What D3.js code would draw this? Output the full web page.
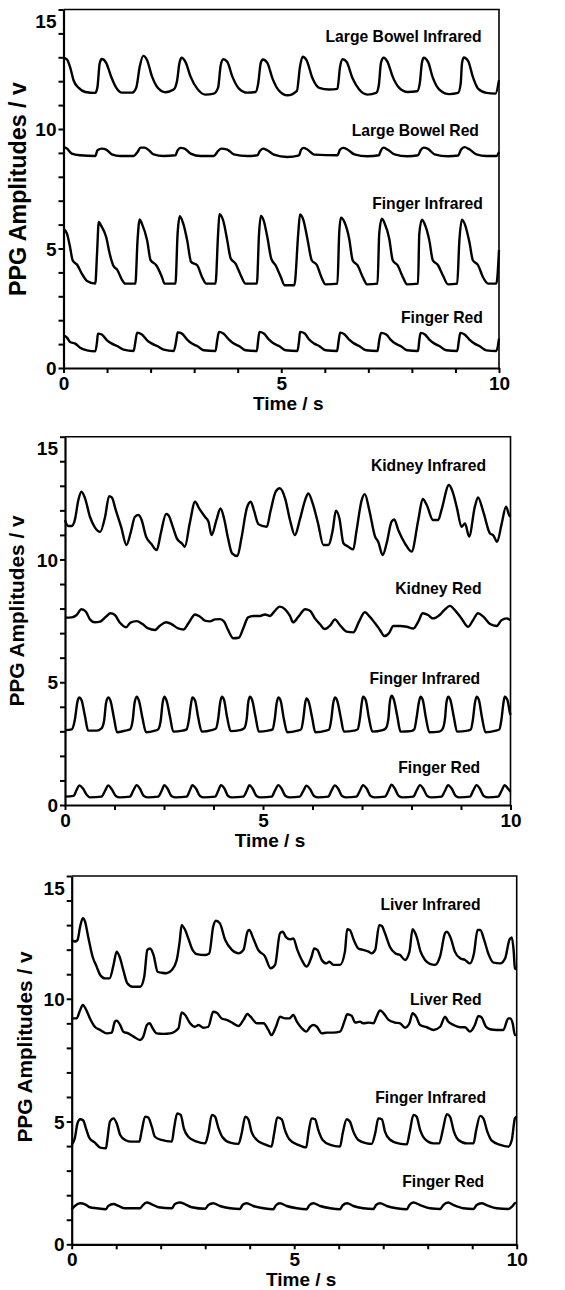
<!DOCTYPE html>
<html><head><meta charset="utf-8">
<script src="https://cdn.jsdelivr.net/npm/d3@7/dist/d3.min.js"></script>
<style>
body{margin:0;background:#fff}
svg{display:block}
text{font-family:"Liberation Sans",Arial,Helvetica,sans-serif;font-weight:bold;fill:#000}
</style>
</head><body>
<svg id="chart" width="565" height="1290"></svg>
<script>
// ---------- tick labels ----------
const yTickLabels = ["0","","","","","5","","","","","10","","","","","15"];
const xTickLabelsStd = ["0","","","","","5","","","","","10"];
const xTickLabelsP2  = ["0","","","","5","","","","","10"];
const xTitle = "Time / s";
const yTitle = "PPG Amplitudes / v";

// ---------- panel 1 series: [time s, amplitude v] ----------
const p1LargeBowelInfrared = [[0,12.99],[0.08,12.91],[0.15,12.6],[0.23,12.04],[0.35,11.72],[0.5,11.55],[0.73,11.51],[0.78,11.76],[0.83,12.74],[0.88,12.93],[0.98,12.77],[1.09,12.21],[1.21,11.73],[1.34,11.52],[1.57,11.52],[1.67,11.73],[1.75,12.6],[1.83,13.06],[1.92,12.88],[2.03,12.21],[2.15,11.76],[2.34,11.54],[2.53,11.65],[2.61,12.04],[2.66,12.74],[2.71,12.98],[2.8,12.81],[2.92,12.18],[3.07,11.69],[3.26,11.44],[3.45,11.48],[3.55,11.73],[3.61,12.67],[3.67,12.92],[3.76,12.81],[3.88,12.18],[4.03,11.69],[4.22,11.52],[4.41,11.55],[4.47,11.9],[4.53,12.77],[4.58,12.91],[4.68,12.77],[4.8,12.11],[4.95,11.6],[5.14,11.41],[5.36,11.6],[5.43,12.6],[5.49,13.02],[5.58,12.88],[5.72,12.11],[5.87,11.72],[6.1,11.65],[6.29,11.68],[6.35,12.6],[6.41,12.92],[6.5,12.81],[6.64,12.11],[6.79,11.65],[6.98,11.44],[7.18,11.51],[7.24,11.83],[7.29,12.77],[7.35,12.98],[7.44,12.81],[7.56,12.18],[7.71,11.72],[7.9,11.55],[8.12,11.58],[8.18,11.9],[8.23,12.77],[8.27,12.98],[8.37,12.81],[8.48,12.15],[8.63,11.65],[8.86,11.46],[9.06,11.51],[9.12,11.9],[9.15,12.74],[9.19,12.99],[9.29,12.85],[9.4,12.18],[9.52,11.69],[9.71,11.51],[9.92,11.48],[10,12.04]];
const p1LargeBowelRed = [[0,9.25],[0.08,9.18],[0.19,8.97],[0.38,8.9],[0.73,8.87],[0.78,9.11],[0.88,9.18],[0.98,9.14],[1.11,8.94],[1.3,8.87],[1.61,8.87],[1.7,9.04],[1.77,9.22],[1.86,9.22],[1.96,9.11],[2.07,8.94],[2.3,8.87],[2.57,8.9],[2.62,9.11],[2.69,9.21],[2.78,9.18],[2.92,8.97],[3.15,8.87],[3.45,8.87],[3.55,9.08],[3.62,9.18],[3.76,9.14],[3.91,8.94],[4.22,8.87],[4.45,8.9],[4.51,9.08],[4.58,9.18],[4.68,9.11],[4.83,8.93],[5.14,8.83],[5.41,8.9],[5.45,9.11],[5.51,9.21],[5.6,9.14],[5.76,8.93],[6.29,8.9],[6.35,9.14],[6.43,9.21],[6.52,9.14],[6.68,8.94],[6.98,8.86],[7.24,8.9],[7.29,9.11],[7.35,9.22],[7.44,9.14],[7.6,8.94],[7.9,8.86],[8.14,8.9],[8.2,9.11],[8.27,9.22],[8.37,9.17],[8.52,8.94],[8.83,8.86],[9.06,8.89],[9.13,9.14],[9.21,9.24],[9.32,9.15],[9.48,8.94],[9.71,8.87],[9.94,8.87],[10,9.04]];
const p1FingerInfrared = [[0,5.83],[0.08,5.62],[0.15,5.06],[0.21,4.51],[0.32,4.3],[0.42,3.95],[0.54,3.64],[0.73,3.53],[0.77,4.79],[0.81,6.11],[0.86,5.97],[0.98,5.48],[1.06,4.79],[1.14,4.3],[1.24,4.09],[1.34,3.7],[1.42,3.53],[1.65,3.53],[1.7,5.34],[1.75,6.22],[1.8,6.04],[1.92,5.34],[2.0,4.51],[2.13,4.3],[2.26,3.81],[2.32,3.53],[2.57,3.53],[2.62,5.62],[2.67,6.35],[2.75,6.04],[2.84,5.34],[2.93,4.44],[3.07,4.3],[3.18,3.81],[3.28,3.53],[3.49,3.53],[3.55,5.62],[3.58,6.43],[3.67,6.15],[3.76,5.34],[3.84,4.58],[3.95,4.37],[4.07,3.88],[4.18,3.53],[4.44,3.53],[4.49,5.62],[4.53,6.36],[4.6,6.15],[4.68,5.48],[4.77,4.58],[4.87,4.3],[4.99,3.81],[5.08,3.46],[5.3,3.46],[5.39,5.62],[5.43,6.42],[5.51,6.18],[5.6,5.41],[5.7,4.51],[5.82,4.3],[5.92,3.81],[6.02,3.5],[6.29,3.53],[6.33,5.62],[6.37,6.29],[6.45,6.11],[6.56,5.41],[6.64,4.51],[6.75,4.3],[6.87,3.81],[6.97,3.5],[7.21,3.53],[7.25,5.62],[7.31,6.25],[7.37,6.07],[7.48,5.41],[7.56,4.51],[7.67,4.3],[7.79,3.81],[7.89,3.5],[8.14,3.53],[8.17,5.62],[8.23,6.21],[8.29,6.04],[8.4,5.34],[8.48,4.51],[8.6,4.3],[8.71,3.88],[8.83,3.5],[9.04,3.53],[9.09,5.34],[9.15,6.21],[9.21,6.04],[9.32,5.27],[9.4,4.51],[9.52,4.3],[9.63,3.81],[9.75,3.53],[9.94,3.53],[10,4.93]];
const p1FingerRed = [[0,1.37],[0.08,1.27],[0.15,1.09],[0.27,1.02],[0.38,0.85],[0.54,0.74],[0.73,0.7],[0.77,1.09],[0.79,1.44],[0.88,1.4],[1.0,1.16],[1.11,1.02],[1.23,0.92],[1.38,0.77],[1.61,0.71],[1.65,1.09],[1.69,1.48],[1.8,1.4],[1.92,1.16],[2.03,1.02],[2.15,0.92],[2.3,0.77],[2.53,0.71],[2.59,1.16],[2.62,1.49],[2.72,1.44],[2.84,1.19],[2.95,1.02],[3.07,0.92],[3.22,0.74],[3.49,0.71],[3.53,1.16],[3.57,1.51],[3.67,1.44],[3.8,1.19],[3.91,1.02],[4.03,0.92],[4.18,0.74],[4.44,0.71],[4.47,1.16],[4.5,1.51],[4.6,1.44],[4.72,1.19],[4.83,1.02],[4.95,0.92],[5.1,0.74],[5.37,0.71],[5.41,1.16],[5.43,1.51],[5.54,1.44],[5.64,1.19],[5.76,1.02],[5.87,0.92],[6.02,0.74],[6.28,0.71],[6.32,1.16],[6.35,1.48],[6.45,1.41],[6.56,1.19],[6.68,1.02],[6.79,0.92],[6.95,0.74],[7.21,0.71],[7.25,1.16],[7.29,1.47],[7.41,1.4],[7.51,1.19],[7.62,1.02],[7.74,0.92],[7.89,0.74],[8.14,0.71],[8.17,1.16],[8.2,1.47],[8.3,1.4],[8.4,1.19],[8.52,1.02],[8.63,0.92],[8.79,0.74],[9.04,0.71],[9.08,1.16],[9.11,1.47],[9.21,1.4],[9.32,1.19],[9.44,1.02],[9.55,0.92],[9.71,0.74],[9.94,0.71],[10,1.23]];

// ---------- panel 2 series ----------
const p2KidneyInfrared = [[0,11.6],[0.07,11.36],[0.15,11.36],[0.22,11.6],[0.3,12.42],[0.37,12.76],[0.45,12.49],[0.56,11.74],[0.67,11.31],[0.79,11.13],[0.9,11.74],[0.99,12.58],[1.05,12.53],[1.14,12.01],[1.26,11.33],[1.38,10.59],[1.47,11.06],[1.57,11.74],[1.65,11.81],[1.72,11.61],[1.82,10.93],[1.94,10.63],[2.06,10.38],[2.15,11.06],[2.27,11.85],[2.32,11.81],[2.42,11.33],[2.51,10.86],[2.62,10.66],[2.69,10.52],[2.8,11.47],[2.92,12.35],[3.01,12.08],[3.14,11.74],[3.22,11.54],[3.29,10.99],[3.4,11.61],[3.49,12.08],[3.57,11.67],[3.66,10.86],[3.75,10.25],[3.87,10.14],[3.96,10.86],[4.08,12.08],[4.17,12.35],[4.24,12.01],[4.34,11.44],[4.45,11.36],[4.53,11.33],[4.61,11.94],[4.73,12.76],[4.82,12.9],[4.94,12.49],[5.05,11.61],[5.16,10.99],[5.27,11.61],[5.39,12.42],[5.46,12.69],[5.57,12.22],[5.68,11.47],[5.8,10.59],[5.91,10.59],[6.01,11.2],[6.08,11.99],[6.16,11.67],[6.25,10.66],[6.36,10.52],[6.47,10.41],[6.54,11.13],[6.66,12.42],[6.73,12.66],[6.83,12.01],[6.96,10.93],[7.03,10.72],[7.13,10.18],[7.22,10.66],[7.33,11.54],[7.39,11.63],[7.48,11.2],[7.63,10.66],[7.78,10.32],[7.93,11.61],[8.03,12.46],[8.12,12.22],[8.26,11.61],[8.38,11.61],[8.45,12.01],[8.62,13.03],[8.7,12.76],[8.8,12.08],[8.9,11.33],[8.98,11.47],[9.07,10.93],[9.2,12.15],[9.27,12.53],[9.39,11.94],[9.54,11.06],[9.61,10.99],[9.7,10.72],[9.8,11.44],[9.9,12.15],[9.97,11.81],[10,11.74]];
const p2KidneyRed = [[0,7.63],[0.15,7.64],[0.26,7.74],[0.37,7.97],[0.47,7.87],[0.56,7.56],[0.67,7.44],[0.79,7.47],[0.92,7.67],[1.02,7.81],[1.12,7.74],[1.23,7.43],[1.37,7.24],[1.47,7.43],[1.61,7.49],[1.74,7.37],[1.87,7.19],[2.02,7.13],[2.13,7.3],[2.27,7.44],[2.39,7.37],[2.54,7.19],[2.66,7.15],[2.77,7.4],[2.92,7.76],[3.03,7.67],[3.14,7.51],[3.25,7.48],[3.37,7.56],[3.48,7.57],[3.57,7.47],[3.66,7.13],[3.78,6.79],[3.9,6.81],[4.0,7.19],[4.11,7.64],[4.23,7.7],[4.38,7.7],[4.49,7.76],[4.6,7.7],[4.71,7.91],[4.82,8.08],[4.94,7.97],[5.05,7.7],[5.12,7.44],[5.24,7.67],[5.39,7.97],[5.5,7.91],[5.61,7.6],[5.72,7.37],[5.83,7.17],[5.96,7.33],[6.06,7.56],[6.17,7.33],[6.32,7.06],[6.47,7.03],[6.6,7.47],[6.73,7.85],[6.84,7.67],[6.96,7.4],[7.07,7.13],[7.17,6.88],[7.28,7.02],[7.37,7.29],[7.52,7.29],[7.67,7.26],[7.82,7.19],[7.93,7.47],[8.03,7.81],[8.15,7.74],[8.26,7.6],[8.41,7.74],[8.53,7.97],[8.64,8.11],[8.75,7.94],[8.9,7.6],[9.05,7.26],[9.16,7.53],[9.27,7.81],[9.39,7.67],[9.54,7.37],[9.69,7.29],[9.8,7.53],[9.91,7.6],[10,7.53]];
const p2FingerInfrared = [[0,3.05],[0.15,3.08],[0.22,3.46],[0.28,4.21],[0.32,4.38],[0.37,4.28],[0.45,3.6],[0.52,3.03],[0.71,3.03],[0.82,3.12],[0.88,3.46],[0.92,4.14],[0.97,4.38],[1.02,4.25],[1.1,3.53],[1.17,2.96],[1.35,3.03],[1.46,3.08],[1.52,3.46],[1.56,4.14],[1.61,4.41],[1.66,4.25],[1.74,3.53],[1.82,2.96],[2.02,3.03],[2.09,3.08],[2.15,3.46],[2.19,4.14],[2.23,4.41],[2.28,4.25],[2.36,3.56],[2.43,2.99],[2.64,3.03],[2.73,3.08],[2.78,3.46],[2.83,4.14],[2.86,4.38],[2.92,4.25],[2.99,3.56],[3.07,2.99],[3.29,3.05],[3.39,3.12],[3.44,3.53],[3.48,4.14],[3.52,4.41],[3.57,4.28],[3.64,3.56],[3.72,3.01],[3.93,3.05],[4.02,3.12],[4.08,3.53],[4.11,4.14],[4.15,4.41],[4.2,4.28],[4.28,3.56],[4.35,2.99],[4.56,3.03],[4.66,3.08],[4.71,3.53],[4.75,4.14],[4.79,4.38],[4.84,4.25],[4.91,3.53],[4.99,2.96],[5.22,3.03],[5.3,3.08],[5.35,3.53],[5.39,4.14],[5.42,4.34],[5.47,4.21],[5.55,3.53],[5.62,2.96],[5.86,3.03],[5.93,3.08],[5.98,3.53],[6.02,4.14],[6.06,4.38],[6.11,4.25],[6.19,3.56],[6.26,2.99],[6.49,3.03],[6.57,3.08],[6.62,3.53],[6.66,4.14],[6.69,4.41],[6.75,4.28],[6.82,3.56],[6.9,2.99],[7.13,3.05],[7.2,3.12],[7.26,3.53],[7.29,4.17],[7.33,4.45],[7.38,4.3],[7.46,3.6],[7.53,2.99],[7.76,3.01],[7.84,3.08],[7.89,3.53],[7.94,4.14],[7.98,4.41],[8.03,4.28],[8.1,3.56],[8.18,2.96],[8.4,2.99],[8.47,3.08],[8.53,3.53],[8.56,4.14],[8.6,4.41],[8.65,4.28],[8.73,3.56],[8.8,2.99],[9.04,3.03],[9.11,3.08],[9.16,3.53],[9.2,4.14],[9.24,4.41],[9.29,4.28],[9.36,3.56],[9.44,2.96],[9.67,3.03],[9.75,3.08],[9.8,3.53],[9.84,4.14],[9.87,4.41],[9.93,4.28],[9.99,3.73],[10,3.67]];
const p2FingerRed = [[0,0.34],[0.19,0.37],[0.26,0.61],[0.32,0.8],[0.4,0.68],[0.49,0.41],[0.56,0.31],[0.82,0.34],[0.9,0.58],[0.97,0.8],[1.05,0.64],[1.14,0.37],[1.23,0.31],[1.46,0.34],[1.53,0.58],[1.61,0.81],[1.68,0.67],[1.77,0.37],[1.87,0.31],[2.09,0.34],[2.17,0.58],[2.23,0.81],[2.3,0.67],[2.39,0.37],[2.49,0.31],[2.73,0.34],[2.8,0.58],[2.86,0.81],[2.94,0.67],[3.03,0.37],[3.12,0.31],[3.37,0.34],[3.44,0.58],[3.5,0.81],[3.58,0.67],[3.66,0.37],[3.75,0.31],[4.0,0.34],[4.08,0.58],[4.14,0.81],[4.21,0.67],[4.3,0.37],[4.39,0.31],[4.64,0.34],[4.71,0.58],[4.79,0.81],[4.86,0.67],[4.95,0.37],[5.05,0.31],[5.27,0.34],[5.35,0.58],[5.42,0.79],[5.5,0.65],[5.59,0.37],[5.68,0.31],[5.91,0.34],[5.98,0.58],[6.06,0.8],[6.13,0.67],[6.22,0.37],[6.32,0.31],[6.54,0.34],[6.62,0.58],[6.69,0.81],[6.77,0.67],[6.86,0.37],[6.96,0.31],[7.18,0.34],[7.26,0.58],[7.33,0.83],[7.4,0.68],[7.49,0.37],[7.59,0.31],[7.82,0.34],[7.89,0.58],[7.97,0.81],[8.04,0.67],[8.13,0.37],[8.23,0.31],[8.45,0.34],[8.53,0.58],[8.6,0.81],[8.68,0.67],[8.77,0.37],[8.86,0.31],[9.09,0.34],[9.16,0.58],[9.24,0.81],[9.31,0.67],[9.4,0.37],[9.5,0.31],[9.72,0.34],[9.8,0.58],[9.87,0.81],[9.94,0.67],[10,0.54]];

// ---------- panel 3 series ----------
const p3LiverInfrared = [[0,12.39],[0.07,12.33],[0.13,12.39],[0.19,12.94],[0.25,13.28],[0.3,13.14],[0.37,12.53],[0.47,11.71],[0.56,11.31],[0.64,10.97],[0.75,10.83],[0.85,10.83],[0.94,11.38],[1.01,11.92],[1.07,11.74],[1.16,11.17],[1.25,10.63],[1.37,10.49],[1.54,10.49],[1.63,10.9],[1.7,11.99],[1.76,12.05],[1.84,11.78],[1.93,11.1],[2.02,11.06],[2.13,11.04],[2.25,11.17],[2.36,11.58],[2.43,12.39],[2.47,13.0],[2.55,12.8],[2.62,12.46],[2.7,12.05],[2.81,11.82],[3.0,11.78],[3.09,11.84],[3.18,12.94],[3.24,13.18],[3.33,13.07],[3.45,12.39],[3.6,11.99],[3.75,11.85],[3.86,11.99],[3.95,12.73],[3.99,12.8],[4.08,12.46],[4.19,11.99],[4.34,11.74],[4.47,11.24],[4.57,11.38],[4.68,12.67],[4.74,12.73],[4.82,12.5],[4.91,12.42],[4.98,12.46],[5.07,11.99],[5.17,11.58],[5.28,11.31],[5.39,11.71],[5.45,12.05],[5.52,11.99],[5.62,11.58],[5.72,11.44],[5.79,11.51],[5.88,11.38],[6.03,11.38],[6.14,11.92],[6.19,12.83],[6.25,12.8],[6.34,12.39],[6.44,12.05],[6.55,11.99],[6.67,11.92],[6.74,11.85],[6.82,11.99],[6.91,13.0],[6.97,12.96],[7.04,12.67],[7.15,12.12],[7.27,11.85],[7.38,11.78],[7.49,11.58],[7.59,11.92],[7.66,12.83],[7.75,12.53],[7.84,11.92],[7.94,11.58],[8.05,11.42],[8.16,11.38],[8.28,11.74],[8.39,12.67],[8.43,12.73],[8.52,12.46],[8.61,11.92],[8.73,11.65],[8.84,11.58],[8.95,11.44],[9.04,11.85],[9.12,12.8],[9.18,12.8],[9.27,12.39],[9.36,11.85],[9.48,11.47],[9.63,11.44],[9.74,11.65],[9.84,12.42],[9.89,12.5],[9.93,11.99],[9.96,11.24],[10,11.2]];
const p3LiverRed = [[0,9.2],[0.11,9.2],[0.19,9.54],[0.25,9.75],[0.32,9.57],[0.41,9.2],[0.52,8.86],[0.64,8.73],[0.79,8.59],[0.9,8.62],[0.97,9.07],[1.01,9.11],[1.09,8.93],[1.16,8.66],[1.27,8.59],[1.39,8.46],[1.54,8.32],[1.61,8.46],[1.69,8.93],[1.75,9.0],[1.82,8.8],[1.91,8.59],[2.06,8.57],[2.21,8.59],[2.4,8.8],[2.47,9.44],[2.55,9.34],[2.66,9.0],[2.77,8.86],[2.85,8.93],[2.96,8.82],[3.07,8.86],[3.18,9.47],[3.26,9.43],[3.37,9.2],[3.48,9.14],[3.63,9.0],[3.75,8.89],[3.86,9.14],[3.95,9.38],[4.02,9.27],[4.16,9.0],[4.31,9.0],[4.42,8.73],[4.49,8.52],[4.59,8.86],[4.68,9.27],[4.79,9.2],[4.89,9.2],[4.98,9.34],[5.06,9.07],[5.17,8.8],[5.27,8.66],[5.36,8.86],[5.43,8.93],[5.51,8.86],[5.62,8.59],[5.73,8.62],[5.88,8.62],[6.03,8.66],[6.14,9.14],[6.19,9.37],[6.29,9.31],[6.37,9.03],[6.48,9.07],[6.55,9.0],[6.67,9.03],[6.78,9.0],[6.85,9.27],[6.93,9.52],[7.0,9.43],[7.12,9.14],[7.27,9.03],[7.38,9.0],[7.49,8.82],[7.59,9.0],[7.66,9.41],[7.74,9.27],[7.83,8.93],[7.98,8.84],[8.13,8.73],[8.28,8.86],[8.39,9.27],[8.46,9.07],[8.58,8.93],[8.73,8.84],[8.84,8.84],[8.95,8.66],[9.06,8.93],[9.14,9.3],[9.21,9.24],[9.31,8.86],[9.4,8.76],[9.55,8.73],[9.7,8.73],[9.81,9.2],[9.85,9.2],[9.91,9.0],[9.96,8.52],[10,8.52]];
const p3FingerInfrared = [[0,4.05],[0.07,4.32],[0.13,4.93],[0.19,5.09],[0.26,5.04],[0.32,4.72],[0.4,4.32],[0.52,4.14],[0.64,3.94],[0.77,3.91],[0.8,4.25],[0.86,5.0],[0.94,5.13],[1.01,4.93],[1.09,4.45],[1.2,4.25],[1.35,4.18],[1.52,4.18],[1.57,4.59],[1.65,5.2],[1.72,5.16],[1.8,4.79],[1.87,4.38],[2.02,4.25],[2.25,4.18],[2.3,4.72],[2.37,5.33],[2.45,5.27],[2.52,4.72],[2.62,4.38],[2.81,4.18],[3.0,4.11],[3.07,4.52],[3.15,5.27],[3.22,5.2],[3.3,4.72],[3.39,4.36],[3.56,4.14],[3.75,4.09],[3.82,4.52],[3.9,5.2],[3.97,5.09],[4.04,4.59],[4.16,4.25],[4.34,4.07],[4.49,3.98],[4.55,4.52],[4.62,5.17],[4.72,5.09],[4.79,4.66],[4.89,4.28],[5.09,4.05],[5.27,3.95],[5.32,4.52],[5.39,5.13],[5.47,5.09],[5.54,4.66],[5.64,4.25],[5.81,4.05],[6.03,3.98],[6.09,4.52],[6.18,5.09],[6.25,5.0],[6.33,4.59],[6.44,4.25],[6.63,4.11],[6.74,4.09],[6.82,4.52],[6.89,5.13],[6.97,5.09],[7.04,4.59],[7.14,4.28],[7.34,4.11],[7.53,4.07],[7.59,4.52],[7.68,5.27],[7.75,5.2],[7.83,4.66],[7.94,4.28],[8.13,4.11],[8.26,4.11],[8.34,4.66],[8.43,5.3],[8.5,5.2],[8.59,4.59],[8.69,4.25],[8.88,4.11],[9.03,4.11],[9.09,4.66],[9.18,5.23],[9.25,5.13],[9.34,4.59],[9.44,4.22],[9.63,4.05],[9.81,3.98],[9.89,4.25],[9.96,5.13],[10,5.2]];
const p3FingerRed = [[0,1.43],[0.07,1.56],[0.19,1.67],[0.3,1.63],[0.41,1.51],[0.56,1.47],[0.77,1.43],[0.82,1.56],[0.94,1.64],[1.05,1.56],[1.2,1.47],[1.54,1.47],[1.6,1.6],[1.69,1.7],[1.8,1.63],[1.95,1.51],[2.25,1.47],[2.32,1.64],[2.43,1.7],[2.55,1.63],[2.7,1.51],[3.0,1.45],[3.07,1.6],[3.18,1.67],[3.33,1.56],[3.56,1.47],[3.78,1.44],[3.84,1.6],[3.93,1.67],[4.08,1.56],[4.31,1.47],[4.53,1.43],[4.59,1.59],[4.68,1.67],[4.83,1.56],[5.06,1.47],[5.28,1.43],[5.34,1.59],[5.43,1.67],[5.58,1.56],[5.81,1.47],[6.03,1.43],[6.09,1.59],[6.19,1.67],[6.33,1.56],[6.55,1.47],[6.78,1.44],[6.84,1.6],[6.93,1.67],[7.08,1.56],[7.3,1.47],[7.53,1.43],[7.59,1.6],[7.68,1.7],[7.83,1.6],[8.05,1.47],[8.28,1.44],[8.35,1.6],[8.46,1.7],[8.58,1.6],[8.8,1.47],[9.03,1.44],[9.1,1.6],[9.21,1.67],[9.33,1.59],[9.55,1.47],[9.81,1.44],[9.89,1.53],[9.96,1.67],[10,1.7]];

// ---------- series labels (right-edge time, centre amplitude) ----------
const p1Labels = [["Large Bowel Infrared",9.6,13.89],["Large Bowel Red",9.54,9.92],["Finger Infrared",9.63,6.9],["Finger Red",9.63,2.13]];
const p2Labels = [["Kidney Infrared",9.45,13.82],["Kidney Red",9.35,8.8],["Finger Infrared",9.32,5.17],["Finger Red",9.32,1.51]];
const p3Labels = [["Liver Infrared",9.19,13.82],["Liver Red",9.21,9.95],["Finger Infrared",9.31,5.96],["Finger Red",9.27,2.55]];

// ---------- layout ----------
const panels = [
  {box:{l:63.5,r:499,t:9.5,b:368}, series:[p1LargeBowelInfrared,p1LargeBowelRed,p1FingerInfrared,p1FingerRed], labels:p1Labels, xLabels:xTickLabelsStd, yt:{x:18,y:189,fs:23.3}},
  {box:{l:65,r:510.5,t:436.7,b:805}, series:[p2KidneyInfrared,p2KidneyRed,p2FingerInfrared,p2FingerRed], labels:p2Labels, xLabels:xTickLabelsP2, yt:{x:16.5,y:611,fs:20.8}},
  {box:{l:71.7,r:516.7,t:876,b:1244.3}, series:[p3LiverInfrared,p3LiverRed,p3FingerInfrared,p3FingerRed], labels:p3Labels, xLabels:xTickLabelsStd, yt:{x:24,y:1047,fs:20.8}}
];

const svg = d3.select("#chart");

panels.forEach(p => {
  const B = p.box;
  const x = d3.scaleLinear().domain([0,10]).range([B.l,B.r]);
  const y = d3.scaleLinear().domain([0,15]).range([B.b,B.t]);
  const g = svg.append("g");

  g.append("path").attr("d",`M${B.l},${B.t}H${B.r}V${B.b}`)
    .attr("fill","none").attr("stroke","#000").attr("stroke-width",1.6);

  const n = p.xLabels.length;
  const xTickVals = d3.range(n).map(k => k*10/(n-1));
  const xAxis = d3.axisBottom(x).tickValues(xTickVals).tickSize(5).tickSizeOuter(0)
    .tickFormat((d,i) => p.xLabels[i]);
  const gx = g.append("g").attr("transform",`translate(0,${B.b})`).call(xAxis);
  gx.select(".domain").attr("stroke-width",2.2);
  gx.selectAll(".tick line").attr("stroke-width",2);
  gx.selectAll(".tick text").attr("font-size",19).attr("font-family","Liberation Sans, Arial, sans-serif")
    .attr("font-weight","bold").attr("y",8).attr("dy","0.72em");

  const yAxis = d3.axisLeft(y).tickValues(d3.range(16)).tickSize(5).tickSizeOuter(0)
    .tickFormat((d,i) => yTickLabels[i]);
  const gy = g.append("g").attr("transform",`translate(${B.l},0)`).call(yAxis);
  gy.select(".domain").attr("stroke-width",2.2);
  gy.selectAll(".tick line").attr("stroke-width",2);
  gy.selectAll(".tick text").attr("font-size",19).attr("font-family","Liberation Sans, Arial, sans-serif")
    .attr("font-weight","bold").attr("x",-7)
    .attr("dy",(d)=> d===15 ? "0.95em" : "0.35em");

  const fiveIdx = p.xLabels.indexOf("5");
  g.append("text").attr("x", x(xTickVals[fiveIdx]) + 7).attr("y", B.b + 35)
    .attr("text-anchor","middle").attr("dominant-baseline","central")
    .attr("font-size",19).text(xTitle);
  g.append("text").attr("transform",`translate(${p.yt.x},${p.yt.y}) rotate(-90)`)
    .attr("text-anchor","middle").attr("dominant-baseline","central")
    .attr("font-size",p.yt.fs).text(yTitle);

  const line = d3.line().x(d=>x(d[0])).y(d=>y(d[1])).curve(d3.curveMonotoneX);
  g.selectAll("path.trace").data(p.series).join("path").attr("class","trace")
    .attr("d",line).attr("fill","none").attr("stroke","#000")
    .attr("stroke-width",2.4).attr("stroke-linejoin","round");

  g.selectAll("text.lab").data(p.labels).join("text").attr("class","lab")
    .attr("x",d=>x(d[1])).attr("y",d=>y(d[2]))
    .attr("text-anchor","end").attr("dominant-baseline","central")
    .attr("font-size",15.7).text(d=>d[0]);
});
</script>
</body></html>
